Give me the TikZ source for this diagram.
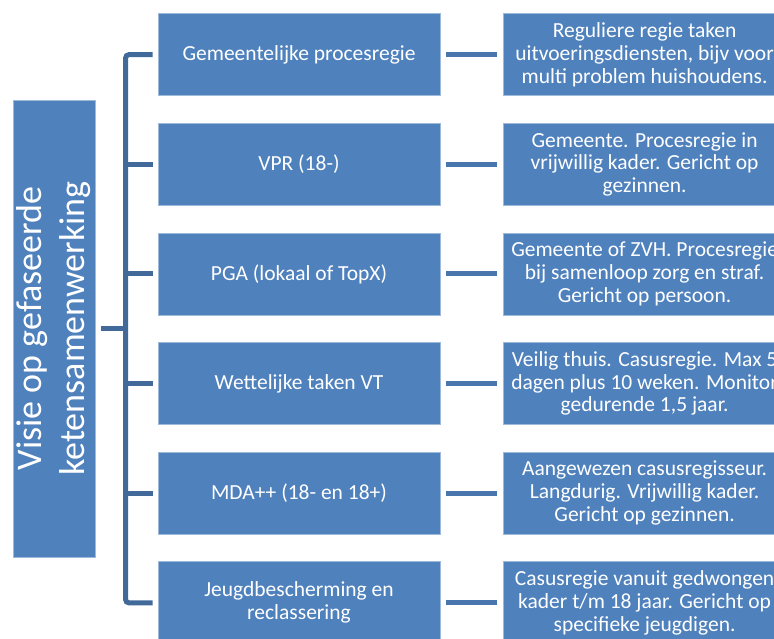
\documentclass[tikz,border=0pt]{standalone}
\usepackage{fontspec}
\setmainfont{Carlito}
\usetikzlibrary{positioning,calc}

\definecolor{blokblauw}{HTML}{4F81BD}
\definecolor{lijnblauw}{HTML}{41699A}
\definecolor{pijlblauw}{HTML}{4A76AE}

\tikzset{
  blok/.style={draw=blokblauw!55!white, line width=0.6pt, fill=blokblauw, text=white,
    minimum width=282pt, minimum height=82pt, inner sep=2pt, align=center,
    font=\fontsize{21.5}{22.8}\selectfont},
  visie/.style={blok, rotate=90, minimum width=457pt, minimum height=82pt,
    font=\fontsize{36}{43}\selectfont},
  haak/.style={lijnblauw, line width=5pt, rounded corners=3pt},
  verbinding/.style={pijlblauw, line width=5pt, shorten <=6pt, shorten >=6pt},
}

\begin{document}
\begin{tikzpicture}[x=1pt,y=-1pt]
\useasboundingbox (0,0) rectangle (774,639);
\clip (0,0) rectangle (774,639);

\node [visie] (visie) at (54,328.5) {Visie op gefaseerde\\ketensamenwerking};

\foreach\i/\naam/\uitleg in {
  1/{Gemeentelijke procesregie}/{Reguliere regie taken\\uitvoeringsdiensten, bijv voor\\multi problem huishoudens.},
  2/{VPR (18-)}/{Gemeente. Procesregie in\\vrijwillig kader. Gericht op\\gezinnen.},
  3/{PGA (lokaal of TopX)}/{Gemeente of ZVH. Procesregie\\bij samenloop zorg en straf.\\Gericht op persoon.},
  4/{Wettelijke taken VT}/{Veilig thuis. Casusregie. Max 5\\dagen plus 10 weken. Monitor\\gedurende 1,5 jaar.},
  5/{MDA++ (18- en 18+)}/{Aangewezen casusregisseur.\\Langdurig. Vrijwillig kader.\\Gericht op gezinnen.},
  6/{Jeugdbescherming en\\reclassering}/{Casusregie vanuit gedwongen\\kader t/m 18 jaar. Gericht op\\specifieke jeugdigen.}}
{
  \node [blok] (m\i) at (299,{54.75+(\i-1)*109.6}) {\naam};
  \node [blok, right=63pt of m\i] (r\i) {\uitleg};
  \draw [verbinding] (m\i.east) -- (r\i.west);
}

% haak tussen visie en de regie-vormen
\coordinate (boven) at ($(m1.west)+(-32,0)$);
\coordinate (onder) at ($(m6.west)+(-32,0)$);
\draw [haak] ($(m1.west)+(-5,0)$) -- (boven) -- (onder) -- ($(m6.west)+(-5,0)$);
\foreach\i in {2,3,4,5}
  \draw [haak] ($(m\i.west)+(-5,0)$) -- ($(m\i.west)+(-32,0)$);
\draw [haak] ($(visie.south)+(6,0)$) -- (boven |- visie.south);
\end{tikzpicture}
\end{document}
